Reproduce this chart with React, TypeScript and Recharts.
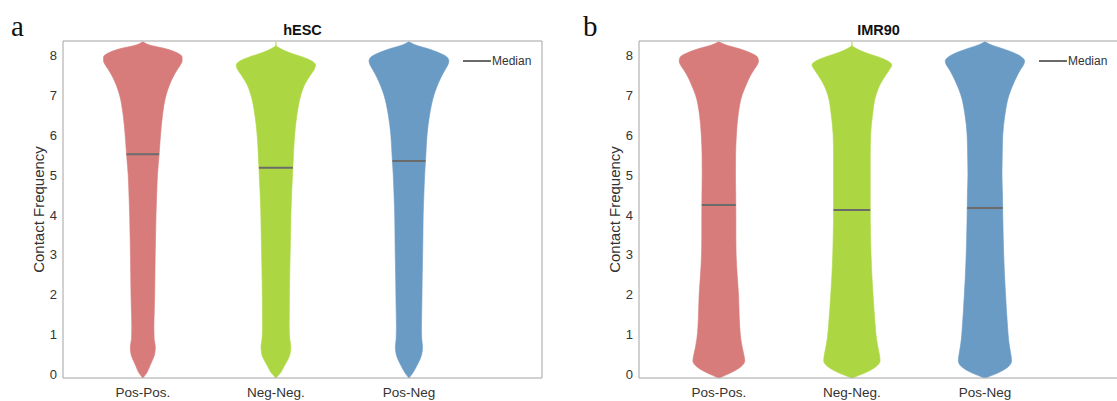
import React from 'react';
import { ComposedChart, Area, XAxis, YAxis, ReferenceLine, Legend } from 'recharts';

const categories = ['Pos-Pos.', 'Neg-Neg.', 'Pos-Neg'];
const colors = ['#D77B7B', '#ADD742', '#6A9BC5'];
const yTicks = [0, 1, 2, 3, 4, 5, 6, 7, 8];
const xTicks = [1, 2, 3];

// contact-frequency levels at which the violin half-widths are read
const levels = [-0.08, 0.05, 0.2, 0.35, 0.5, 0.7, 0.9, 1.2, 1.6, 2, 2.5, 3, 3.5, 4, 4.5, 5, 5.5, 6, 6.5, 7, 7.25, 7.5, 7.65, 7.75, 7.85, 7.95, 8.05, 8.15, 8.25, 8.33];

// hESC half-widths
const hescPosPos = [0, 0.03, 0.05, 0.07, 0.088, 0.094, 0.085, 0.083, 0.086, 0.089, 0.091, 0.093, 0.096, 0.099, 0.104, 0.11, 0.122, 0.133, 0.148, 0.175, 0.2, 0.235, 0.262, 0.282, 0.295, 0.295, 0.26, 0.18, 0.05, 0];
const hescNegNeg = [0, 0.035, 0.06, 0.085, 0.105, 0.112, 0.104, 0.1, 0.101, 0.102, 0.104, 0.107, 0.11, 0.113, 0.118, 0.125, 0.132, 0.141, 0.158, 0.188, 0.215, 0.26, 0.29, 0.298, 0.27, 0.2, 0.11, 0.04, 0, 0];
const hescPosNeg = [0, 0.03, 0.055, 0.078, 0.095, 0.102, 0.096, 0.094, 0.096, 0.098, 0.1, 0.103, 0.105, 0.107, 0.112, 0.118, 0.127, 0.136, 0.155, 0.188, 0.215, 0.25, 0.275, 0.292, 0.3, 0.285, 0.23, 0.15, 0.05, 0];

// IMR90 half-widths
const imrPosPos = [0, 0.09, 0.165, 0.195, 0.188, 0.175, 0.165, 0.157, 0.152, 0.148, 0.138, 0.13, 0.128, 0.128, 0.127, 0.125, 0.126, 0.132, 0.145, 0.175, 0.205, 0.24, 0.268, 0.288, 0.298, 0.29, 0.24, 0.16, 0.055, 0];
const imrNegNeg = [0, 0.1, 0.18, 0.212, 0.207, 0.195, 0.185, 0.176, 0.167, 0.159, 0.15, 0.144, 0.14, 0.138, 0.138, 0.138, 0.138, 0.141, 0.155, 0.181, 0.21, 0.255, 0.285, 0.3, 0.27, 0.2, 0.11, 0.04, 0, 0];
const imrPosNeg = [0, 0.1, 0.175, 0.2, 0.195, 0.185, 0.177, 0.17, 0.162, 0.155, 0.147, 0.141, 0.137, 0.134, 0.132, 0.128, 0.13, 0.134, 0.15, 0.181, 0.21, 0.245, 0.27, 0.29, 0.298, 0.275, 0.22, 0.14, 0.05, 0];

const hescMedians = [5.52, 5.18, 5.35];
const imrMedians = [4.25, 4.12, 4.17];

const FONT = '"Liberation Sans", Arial, sans-serif';
const BOX = '#A3A3A3';
const Y_DOMAIN: [number, number] = [-0.08, 8.35];
const X_DOMAIN: [number, number] = [0.4, 4.0];

function widthAt(profile: number[], v: number) {
  for (let i = 0; i < levels.length - 1; i++) {
    if (v >= levels[i] && v <= levels[i + 1]) {
      const t = (v - levels[i]) / (levels[i + 1] - levels[i]);
      return profile[i] + t * (profile[i + 1] - profile[i]);
    }
  }
  return 0;
}

const MedianLegend = () => (
  <div style={{ display: 'flex', alignItems: 'center', fontFamily: FONT, fontSize: 12, color: '#333', whiteSpace: 'nowrap' }}>
    <svg width={28} height={4} style={{ display: 'block' }}>
      <line x1={0} y1={2} x2={28} y2={2} stroke="#6b6b6b" strokeWidth={2} />
    </svg>
    <span style={{ marginLeft: 1, lineHeight: '16px' }}>Median</span>
  </div>
);

type PanelProps = {
  title: string;
  profiles: number[][];
  medians: number[];
  marginLeft: number;
  marginRight: number;
  legendLeft: number;
};

function Panel({ title, profiles, medians, marginLeft, marginRight, legendLeft }: PanelProps) {
  const data = levels.map((v, i) => ({ v, w0: profiles[0][i], w1: profiles[1][i], w2: profiles[2][i] }));
  const keys = ['w0', 'w1', 'w2'];
  return (
    <ComposedChart
      width={560}
      height={401}
      data={data}
      layout="vertical"
      margin={{ top: 41, right: marginRight, bottom: 0, left: marginLeft }}
    >
      <XAxis
        type="number"
        domain={X_DOMAIN}
        allowDataOverflow
        ticks={xTicks}
        tickFormatter={(t: number) => categories[t - 1] ?? ''}
        tickLine={false}
        tickSize={0}
        tickMargin={9}
        height={23}
        axisLine={{ stroke: BOX }}
        tick={{ fontFamily: FONT, fontSize: 13.5, fill: '#333' }}
      />
      <YAxis
        type="number"
        dataKey="v"
        domain={Y_DOMAIN}
        allowDataOverflow
        reversed
        ticks={yTicks}
        tickLine={false}
        tickSize={0}
        tickMargin={6}
        width={40}
        axisLine={{ stroke: BOX }}
        tick={{ fontFamily: FONT, fontSize: 13, fill: '#333' }}
        label={{ value: 'Contact Frequency', angle: -90, position: 'insideLeft', offset: 16, style: { textAnchor: 'middle', fontFamily: FONT, fontSize: 15, fill: '#333' } }}
      />
      {keys.map((k, i) => (
        <Area
          key={k}
          name={categories[i]}
          type="monotone"
          dataKey={(d: any) => [i + 1 - d[k], i + 1 + d[k]]}
          fill={colors[i]}
          fillOpacity={1}
          stroke={colors[i]}
          strokeWidth={0.6}
          isAnimationActive={false}
          dot={false}
          activeDot={false}
          legendType="none"
        />
      ))}
      {medians.map((m, i) => {
        const w = widthAt(profiles[i], m);
        return (
          <ReferenceLine
            key={'med' + i}
            segment={[{ x: i + 1 - w, y: m }, { x: i + 1 + w, y: m }]}
            stroke="#6b6b6b"
            strokeWidth={2}
          />
        );
      })}
      <ReferenceLine
        y={Y_DOMAIN[1]}
        stroke={BOX}
        strokeWidth={1}
        label={{ value: title, position: 'top', offset: 6, style: { fontFamily: FONT, fontSize: 14.5, fontWeight: 'bold', fill: '#111' } }}
      />
      <ReferenceLine x={X_DOMAIN[1]} stroke={BOX} strokeWidth={1} />
      <Legend
        layout="horizontal"
        align="center"
        verticalAlign="middle"
        content={() => <MedianLegend />}
        wrapperStyle={{ top: 53, left: legendLeft, width: 'auto' }}
      />
    </ComposedChart>
  );
}

const letterStyle: React.CSSProperties = {
  position: 'absolute',
  fontFamily: '"Liberation Serif", "Times New Roman", serif',
  fontSize: 29,
  lineHeight: '29px',
  color: '#111',
};

export default function App() {
  return (
    <div style={{ position: 'absolute', left: 0, top: 0, width: 1117, height: 401, overflow: 'hidden', background: '#fff' }}>
      <div style={{ position: 'absolute', left: 0, top: 0 }}>
        <Panel title="hESC" profiles={[hescPosPos, hescNegNeg, hescPosNeg]} medians={hescMedians} marginLeft={23} marginRight={18} legendLeft={463} />
      </div>
      <div style={{ position: 'absolute', left: 560, top: 0 }}>
        <Panel title="IMR90" profiles={[imrPosPos, imrNegNeg, imrPosNeg]} medians={imrMedians} marginLeft={39} marginRight={2} legendLeft={479} />
      </div>
      <div style={{ ...letterStyle, left: 11, top: 12 }}>a</div>
      <div style={{ ...letterStyle, left: 583, top: 12 }}>b</div>
    </div>
  );
}
